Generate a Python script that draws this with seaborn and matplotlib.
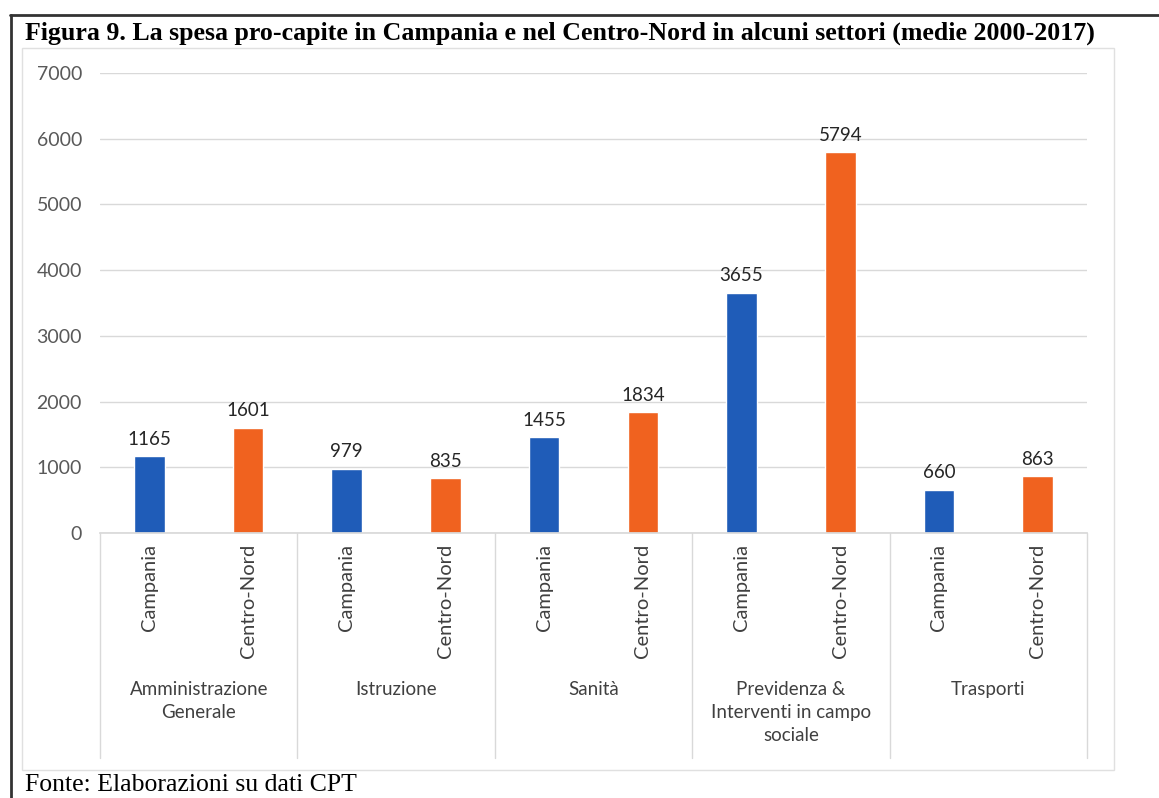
import numpy as np
import pandas as pd
import matplotlib
matplotlib.use("Agg")
import matplotlib.pyplot as plt
from matplotlib.lines import Line2D
from matplotlib.patches import Rectangle
import seaborn as sns

# data
settori = ["Amministrazione\nGenerale", "Istruzione", "Sanità",
           "Previdenza &\nInterventi in campo\nsociale", "Trasporti"]
aree = ["Campania", "Centro-Nord"]
campania = [1165, 979, 1455, 3655, 660]
centro_nord = [1601, 835, 1834, 5794, 863]
yticks = [0, 1000, 2000, 3000, 4000, 5000, 6000, 7000]

rows = []
for i, s in enumerate(settori):
    rows.append({"slot": f"{i}-Campania", "area": "Campania", "spesa": campania[i]})
    rows.append({"slot": f"{i}-Centro-Nord", "area": "Centro-Nord", "spesa": centro_nord[i]})
df = pd.DataFrame(rows)

sns.set_theme(style="white")
plt.rcParams['font.family'] = ['Lato', 'DejaVu Sans']

W, H = 1159, 798
fig = plt.figure(figsize=(W / 100, H / 100), dpi=100)
ax = fig.add_axes([100 / W, 1 - 533 / H, 987 / W, 460 / H])

blue = "#1f5cb8"
orange = "#f0621f"
sns.barplot(data=df, x="slot", y="spesa", hue="area", dodge=False, width=0.31, saturation=1,
            palette={"Campania": blue, "Centro-Nord": orange}, legend=False, ax=ax)

for c in ax.containers:
    ax.bar_label(c, fmt="%d", padding=6, fontsize=13.5, color="#262626")

ax.set_ylim(0, 7000)
ax.set_xlim(-0.5, len(df) - 0.5)
ax.set_yticks(yticks)
ax.set_yticklabels([str(v) for v in yticks], fontsize=14, color="#595959")
ax.yaxis.grid(True, color="#d9d9d9", lw=1)
ax.set_axisbelow(True)
for sp in ["top", "right", "left"]:
    ax.spines[sp].set_visible(False)
ax.spines["bottom"].set_color("#d9d9d9")
ax.tick_params(axis="y", length=0, pad=13)
ax.tick_params(axis="x", length=0, pad=8)
ax.set_xticks(range(len(df)))
ax.set_xticklabels(df["area"], rotation=90, fontsize=14.5, color="#404040")
ax.set_xlabel("")
ax.set_ylabel("")

# group separators and group labels
tr = ax.get_xaxis_transform()
for b in np.arange(-0.5, len(df), 2):
    ax.plot([b, b], [0, -0.49], transform=tr, clip_on=False, color="#d9d9d9", lw=1)
for i, s in enumerate(settori):
    ax.text(2 * i + 0.5, -0.322, s, transform=tr, ha="center", va="top",
            fontsize=13.5, color="#404040", linespacing=1.42)

# frames
fig.add_artist(Rectangle((22 / W, 1 - 770 / H), (1114 - 22) / W, (770 - 48) / H,
                         transform=fig.transFigure, fill=False, edgecolor="#e0e0e0", lw=1))
fig.add_artist(Line2D([10 / W, 1], [1 - 15 / H, 1 - 15 / H], color="#333333", lw=2))
fig.add_artist(Line2D([11 / W, 11 / W], [0, 1 - 15 / H], color="#333333", lw=2))

fig.text(25 / W, 1 - 33 / H, "Figura 9. La spesa pro-capite in Campania e nel Centro-Nord in alcuni settori (medie 2000-2017)",
         fontsize=18.6, fontweight="bold", family="Liberation Serif", va="center", ha="left", color="black")
fig.text(25 / W, 1 - 785 / H, "Fonte: Elaborazioni su dati CPT",
         fontsize=18.5, family="Liberation Serif", va="center", ha="left", color="black")

fig.savefig("out.png", dpi=100)
